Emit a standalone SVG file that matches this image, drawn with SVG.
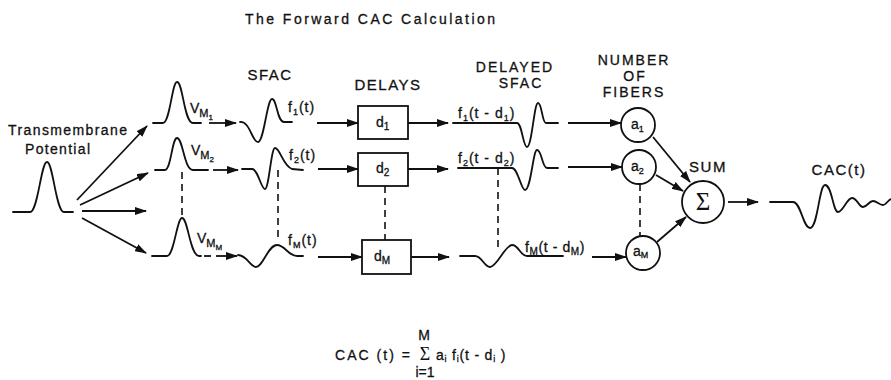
<svg xmlns="http://www.w3.org/2000/svg" width="891" height="380" viewBox="0 0 891 380">
<style>
  .t{font-family:"Liberation Sans",Arial,sans-serif;fill:#111;font-size:14px;stroke:#111;stroke-width:0.3}
  .h{font-family:"Liberation Sans",Arial,sans-serif;fill:#111;font-size:15px;letter-spacing:1.5px;text-anchor:middle;stroke:#111;stroke-width:0.3}
  .h2{font-size:14px;letter-spacing:2px}
  .w{fill:none;stroke:#111;stroke-width:1.8;stroke-linejoin:round;stroke-linecap:round}
  .c{fill:none;stroke:#111;stroke-width:1.8}
  .a{fill:none;stroke:#111;stroke-width:1.8;marker-end:url(#ah)}
  .d{fill:none;stroke:#111;stroke-width:1.6;stroke-dasharray:7 5}
  .lb{letter-spacing:1px}
  .sg{font-family:"Liberation Serif","Times New Roman",serif;fill:#111;text-anchor:middle}
</style>
<defs>
  <marker id="ah" viewBox="0 0 12 8" refX="11" refY="4" markerWidth="12" markerHeight="8" markerUnits="userSpaceOnUse" orient="auto">
    <path d="M0,0 L12,4 L0,8 z" fill="#111"/>
  </marker>
</defs>
<rect width="891" height="380" fill="#fff"/>

<g id="title">
  <text class="t" x="245" y="24" font-size="15" textLength="250" lengthAdjust="spacing">The Forward CAC Calculation</text>
</g>

<g id="headers">
  <text class="h" x="270" y="80">SFAC</text>
  <text class="h" x="388" y="90">DELAYS</text>
  <text class="h h2" x="515" y="72">DELAYED</text>
  <text class="h h2" x="521" y="88">SFAC</text>
  <text class="h h2" x="634" y="65">NUMBER</text>
  <text class="h h2" x="635" y="81">OF</text>
  <text class="h h2" x="634" y="97">FIBERS</text>
  <text class="h" x="708" y="172">SUM</text>
  <text class="h" x="839" y="175">CAC(t)</text>
</g>

<g id="source">
  <text class="t" x="8" y="135" textLength="119" lengthAdjust="spacing">Transmembrane</text>
  <text class="t" x="25" y="154" textLength="65" lengthAdjust="spacing">Potential</text>
  <path class="w" d="M13,212 L30,212 C38,212 41,162 47,162 C53,162 56,212 64,212 L73,212"/>
</g>

<g id="v1">
  <path class="w" d="M153,123 L163,123 C170,123 172,82 177,82 C183,82 184,123 193,123 L201,123"/>
  <text class="t" x="190" y="113">V<tspan font-size="11" dy="4">M</tspan><tspan font-size="8" dy="3">1</tspan></text>
</g>
<g id="v2">
  <path class="w" d="M155,170 L165,170 C171,170 172,138 177,138 C183,138 184,170 193,170 L208,170"/>
  <text class="t" x="191" y="155">V<tspan font-size="11" dy="4">M</tspan><tspan font-size="8" dy="3">2</tspan></text>
</g>
<g id="vM">
  <path class="w" d="M152,256 L167,256 C174,256 177,218 182,218 C188,218 190,256 199,256 L201,256"/>
  <text class="t" x="197" y="243">V<tspan font-size="11" dy="4">M</tspan><tspan font-size="8" dy="3">M</tspan></text>
</g>

<g id="s1">
  <path class="w" d="M240,122 C250,121 252,142 258,142 C264,142 267,99 272,99 C277,99 277,122 284,122 L292,122"/>
  <text class="t lb" x="288" y="112">f<tspan font-size="9" dy="3">1</tspan><tspan dy="-3">(t)</tspan></text>
</g>
<g id="s2">
  <path class="w" d="M242,169 L252,169 C258,169 261,189 265,189 C269,189 271,148 275,148 C280,148 283,166 292,169 L303,170"/>
  <text class="t lb" x="289" y="160">f<tspan font-size="9" dy="3">2</tspan><tspan dy="-3">(t)</tspan></text>
</g>
<g id="sM">
  <path class="w" d="M238,255 C247,255 250,267 256,267 C263,267 268,245 277,245 C285,245 288,256 297,256 L303,256"/>
  <text class="t lb" x="288" y="245">f<tspan font-size="9" dy="3">M</tspan><tspan dy="-3">(t)</tspan></text>
</g>

<g id="d1">
  <rect class="c" x="358" y="106" width="50" height="33"/>
  <text class="t" x="376" y="127" font-size="16">d<tspan font-size="10" dy="3">1</tspan></text>
</g>
<g id="d2">
  <rect class="c" x="358" y="153" width="50" height="33"/>
  <text class="t" x="376" y="173" font-size="16">d<tspan font-size="10" dy="3">2</tspan></text>
</g>
<g id="dM">
  <rect class="c" x="362" y="240" width="49" height="34"/>
  <text class="t" x="374" y="261" font-size="16">d<tspan font-size="10" dy="3">M</tspan></text>
</g>

<g id="ds1">
  <path class="w" d="M453,123 L517,123 C522,123 523,147 527,147 C532,147 534,103 538,103 C542,103 542,123 546,123 L558,123"/>
  <text class="t lb" x="458" y="118">f<tspan font-size="9" dy="3">1</tspan><tspan dy="-3">(t - d</tspan><tspan font-size="9" dy="3">1</tspan><tspan dy="-3">)</tspan></text>
</g>
<g id="ds2">
  <path class="w" d="M458,168 L512,168 C518,168 521,190 525,190 C531,190 533,150 537,150 C542,150 542,168 547,168 L558,168"/>
  <text class="t lb" x="458" y="163">f<tspan font-size="9" dy="3">2</tspan><tspan dy="-3">(t - d</tspan><tspan font-size="9" dy="3">2</tspan><tspan dy="-3">)</tspan></text>
</g>
<g id="dsM">
  <path class="w" d="M460,256 L475,256 C482,256 484,267 490,267 C497,267 505,245 512,245 C519,245 520,256 527,256 L563,256"/>
  <text class="t" x="525" y="252" letter-spacing="0.6">f<tspan font-size="10" dy="3">M</tspan><tspan dy="-3">(t - d</tspan><tspan font-size="10" dy="3">M</tspan><tspan dy="-3">)</tspan></text>
</g>

<g id="a1">
  <circle class="c" cx="638" cy="125" r="17"/>
  <text class="t" x="631" y="129" font-size="15">a<tspan font-size="9" dy="3">1</tspan></text>
</g>
<g id="a2">
  <circle class="c" cx="639" cy="167" r="17"/>
  <text class="t" x="631" y="171" font-size="15">a<tspan font-size="9" dy="3">2</tspan></text>
</g>
<g id="aM">
  <circle class="c" cx="643" cy="253" r="17"/>
  <text class="t" x="633" y="256" font-size="15">a<tspan font-size="9" dy="2">M</tspan></text>
</g>

<g id="sum">
  <circle class="c" cx="703" cy="202" r="21"/>
  <text class="sg" x="703" y="210" font-size="25">Σ</text>
</g>

<g id="cac">
  <path class="w" d="M770,202 L793,202 C801,202 803,228 810,228 C818,228 819,185 825,185 C832,185 833,212 838,212 C843,212 847,198 852,198 C857,198 859,207 863,207 C867,207 869,201 873,201 C877,201 879,205 883,205 C886,205 888,200 891,199"/>
</g>

<g id="connectors">
  <line class="a" x1="77" y1="200" x2="147" y2="126"/>
  <line class="a" x1="80" y1="205" x2="148" y2="173"/>
  <line class="a" x1="82" y1="211" x2="146" y2="211"/>
  <line class="a" x1="82" y1="218" x2="146" y2="253"/>

  <line class="a" x1="209" y1="123" x2="236" y2="123"/>
  <line class="a" x1="213" y1="170" x2="238" y2="170"/>
  <line class="c" x1="204" y1="256" x2="211" y2="256"/>
  <line class="a" x1="216" y1="256" x2="237" y2="256"/>

  <line class="a" x1="317" y1="123" x2="358" y2="123"/>
  <line class="a" x1="318" y1="169" x2="358" y2="169"/>
  <line class="a" x1="318" y1="257" x2="362" y2="257"/>

  <line class="a" x1="408" y1="123" x2="448" y2="123"/>
  <line class="a" x1="408" y1="169" x2="448" y2="169"/>
  <line class="a" x1="411" y1="257" x2="449" y2="257"/>

  <line class="a" x1="568" y1="123" x2="621" y2="123"/>
  <line class="a" x1="568" y1="167" x2="622" y2="167"/>
  <line class="a" x1="592" y1="257" x2="626" y2="257"/>

  <line class="a" x1="653" y1="137" x2="690" y2="182"/>
  <line class="a" x1="656" y1="175" x2="683" y2="191"/>
  <line class="a" x1="657" y1="242" x2="686" y2="217"/>

  <line class="a" x1="728" y1="202" x2="758" y2="202"/>

  <line class="d" x1="182" y1="172" x2="182" y2="216"/>
  <line class="d" x1="278" y1="170" x2="278" y2="242"/>
  <line class="d" x1="385" y1="186" x2="385" y2="240"/>
  <line class="d" x1="498" y1="168" x2="498" y2="247"/>
  <line class="d" x1="640" y1="184" x2="640" y2="236"/>
</g>

<g id="formula">
  <text class="t" x="335" y="360" textLength="75" lengthAdjust="spacing">CAC (t) =</text>
  <text class="sg" x="425" y="360" font-size="18">Σ</text>
  <text class="t" x="424" y="340" font-size="8" text-anchor="middle">M</text>
  <text class="t" x="425" y="377" font-size="8" text-anchor="middle">i=1</text>
  <text class="t" x="436" y="360" letter-spacing="0.8">a<tspan font-size="9" dy="2">i</tspan><tspan dy="-2"> f</tspan><tspan font-size="9" dy="2">i</tspan><tspan dy="-2">(t - d</tspan><tspan font-size="9" dy="2">i</tspan><tspan dy="-2"> )</tspan></text>
</g>
</svg>
